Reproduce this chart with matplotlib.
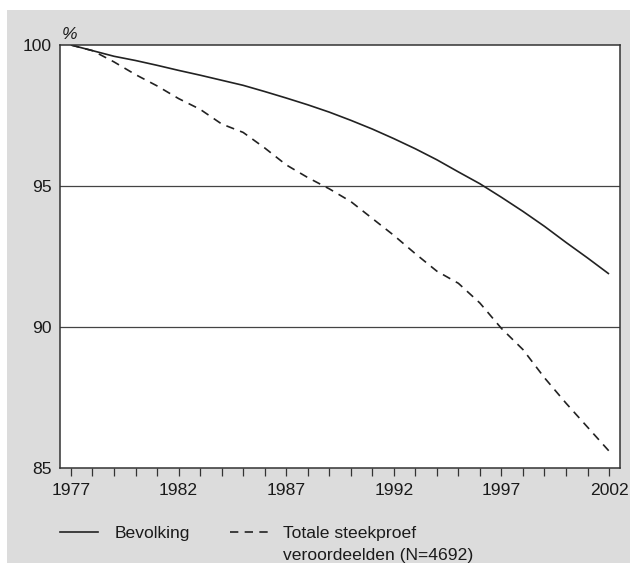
import matplotlib
matplotlib.use("Agg")
import matplotlib.pyplot as plt
from matplotlib.lines import Line2D
from matplotlib.patches import Rectangle

plt.rcParams['font.family'] = ['Liberation Sans', 'DejaVu Sans']

years = list(range(1977, 2003))
bevolking = [100.0, 99.8, 99.6, 99.45, 99.28, 99.1, 98.93, 98.75, 98.57, 98.35,
             98.12, 97.88, 97.62, 97.33, 97.02, 96.68, 96.32, 95.93, 95.5, 95.08,
             94.6, 94.1, 93.57, 93.0, 92.45, 91.88]
steekproef = [100.0, 99.8, 99.4, 98.95, 98.55, 98.1, 97.72, 97.2, 96.9, 96.35,
              95.75, 95.3, 94.9, 94.45, 93.85, 93.25, 92.6, 91.98, 91.55, 90.85,
              89.95, 89.2, 88.2, 87.3, 86.45, 85.6]
xtick_labels = [1977, 1982, 1987, 1992, 1997, 2002]
yticks = [85, 90, 95, 100]
label_bev = "Bevolking"
label_tot = "Totale steekproef\nveroordeelden (N=4692)"

W, H = 630, 563
FS = 12.6
fig = plt.figure(figsize=(W / 100, H / 100), dpi=100, facecolor='white')
bg = '#dcdcdc'
fig.patches.append(Rectangle((7 / W, 0), 1 - 7 / W, (H - 10) / H,
                             transform=fig.transFigure, facecolor=bg,
                             edgecolor='none', zorder=-10))

ax = fig.add_axes([60 / W, (H - 468) / H, (620 - 60) / W, (468 - 45) / H])
ax.set_zorder(5)
ax.set_facecolor('white')

dark = '#222222'
DASH = (5.0, 3.8)
ax.plot(years, bevolking, color=dark, lw=1.2, solid_capstyle='butt')
ax.plot(years, steekproef, color=dark, lw=1.2, dashes=DASH)

ax.set_xlim(1976.49, 2002.51)
ax.set_ylim(85, 100)

for v in (90, 95):
    ax.axhline(v, color='#444444', lw=0.9, zorder=0.5)

ax.set_xticks(years)
ax.set_xticklabels([str(y) if y in xtick_labels else '' for y in years])
ax.set_yticks(yticks)
ax.set_yticklabels([str(v) for v in yticks])
ax.tick_params(axis='x', direction='out', length=6, width=0.9, color='#333333',
               pad=5, labelsize=FS, labelcolor='#1a1a1a')
ax.tick_params(axis='y', length=0, pad=6, labelsize=FS, labelcolor='#1a1a1a')

for s in ax.spines.values():
    s.set_color('#333333')
    s.set_linewidth(1.1)

ax.text(0.003, 1.006, '%', transform=ax.transAxes, fontsize=FS, style='italic',
        ha='left', va='bottom', color='#1a1a1a')

# legend (manual layout)
ly = 1 - 532 / H
fig.add_artist(Line2D([60 / W, 98 / W], [ly, ly], transform=fig.transFigure,
                      color=dark, lw=1.2))
fig.text(115 / W, 1 - 538 / H, label_bev, fontsize=FS, ha='left', va='baseline',
         color='#1a1a1a')
fig.add_artist(Line2D([230 / W, 268 / W], [ly, ly], transform=fig.transFigure,
                      color=dark, lw=1.2, dashes=DASH))
for i, part in enumerate(label_tot.split('\n')):
    fig.text(283 / W, 1 - (538 + 22 * i) / H, part, fontsize=FS, ha='left',
             va='baseline', color='#1a1a1a')

fig.savefig('out.png', dpi=100, facecolor='white')
